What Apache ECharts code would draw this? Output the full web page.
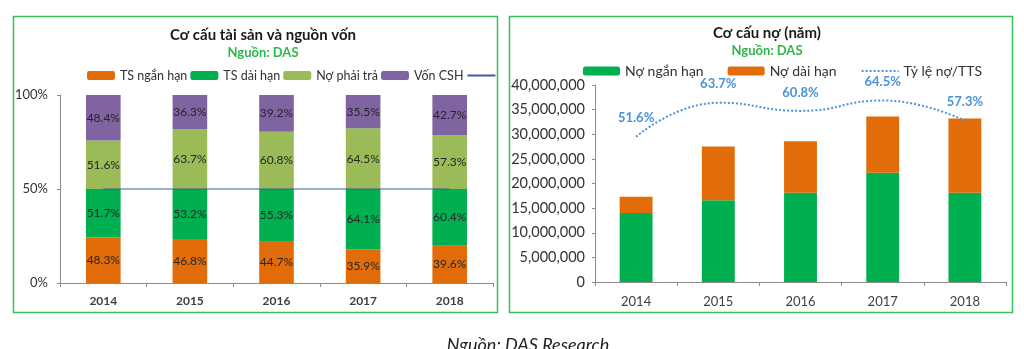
<!DOCTYPE html>
<html>
<head>
<meta charset="utf-8">
<script src="https://cdn.jsdelivr.net/npm/echarts@6/dist/echarts.min.js"></script>
<style>
html,body{margin:0;padding:0;background:#fff;}
#c{width:1024px;height:349px;}
</style>
</head>
<body>
<div id="c"></div>
<script>
// ---- Left chart data ----
const years = ['2014', '2015', '2016', '2017', '2018'];
const tsNganHan = [48.3, 46.8, 44.7, 35.9, 39.6];
const tsDaiHan = [51.7, 53.2, 55.3, 64.1, 60.4];
const noPhaiTra = [51.6, 63.7, 60.8, 64.5, 57.3];
const vonCSH = [48.4, 36.3, 39.2, 35.5, 42.7];
const dividerLine = [100, 100, 100, 100, 100];
const leftTicks = ['0%', '50%', '100%'];

// ---- Right chart data ----
const noNganHan = [14000000, 16600000, 18100000, 22200000, 18100000];
const noDaiHan = [3300000, 10900000, 10500000, 11400000, 15100000];
const tyLeNo = [51.6, 63.7, 60.8, 64.5, 57.3];

const FONT = 'Lato';
const ORANGE = '#E36C0A', GREEN = '#00B050', LGREEN = '#9BBB59', PURPLE = '#8064A2', BLUE = '#4A93D8';

const chart = echarts.init(document.getElementById('c'), null, {renderer: 'canvas'});

const pctLabel = {
  show: true, position: 'inside', fontFamily: FONT, fontSize: 12, color: '#262626',
  formatter: p => p.value.toFixed(1) + '%'
};

const option = {
  animation: false,
  textStyle: {fontFamily: FONT},
  title: [
    {text: 'Cơ cấu tài sản và nguồn vốn', subtext: 'Nguồn: DAS', left: 258, top: 23, textAlign: 'center', itemGap: 3,
      textStyle: {fontFamily: FONT, fontSize: 15, fontWeight: 'bold', color: '#1a1a1a'},
      subtextStyle: {fontFamily: FONT, fontSize: 13, fontWeight: 'bold', color: '#2DB84C'}},
    {text: 'Cơ cấu nợ (năm)', subtext: 'Nguồn: DAS', left: 762, top: 21, textAlign: 'center', itemGap: 3,
      textStyle: {fontFamily: FONT, fontSize: 15, fontWeight: 'bold', color: '#1a1a1a'},
      subtextStyle: {fontFamily: FONT, fontSize: 13, fontWeight: 'bold', color: '#2DB84C'}},
    {text: 'Nguồn: DAS Research', left: 528, top: 336, textAlign: 'center', padding: 0,
      textStyle: {fontFamily: FONT, fontSize: 18, fontStyle: 'italic', fontWeight: 'normal', color: '#222'}}
  ],
  graphic: [
    {type: 'rect', shape: {x: 13.5, y: 16.5, width: 484, height: 296}, style: {fill: 'none', stroke: '#3DBE5C', lineWidth: 1.5}, z: 100},
    {type: 'rect', shape: {x: 509.5, y: 16.5, width: 503, height: 296}, style: {fill: 'none', stroke: '#3DBE5C', lineWidth: 1.5}, z: 100}
  ],
  legend: [
    {left: 87, top: 69, padding: 0, itemWidth: 28, itemHeight: 9, itemGap: 3,
      data: ['TS ngắn hạn', 'TS dài hạn', 'Nợ phải trả', 'Vốn CSH', {name: 'Mốc 50%', itemStyle: {opacity: 0}}],
      formatter: n => n === 'Mốc 50%' ? '' : n,
      textStyle: {fontFamily: FONT, fontSize: 12.5, color: '#333'}},
    {left: 583, top: 64, padding: 0, itemWidth: 37, itemHeight: 9, itemGap: 24,
      data: ['Nợ ngắn hạn', 'Nợ dài hạn', {name: 'Tỷ lệ nợ/TTS', itemStyle: {opacity: 0}}],
      textStyle: {fontFamily: FONT, fontSize: 14, color: '#333'}}
  ],
  grid: [
    {left: 60, right: 531, top: 95, bottom: 66},
    {left: 595, right: 18, top: 85, bottom: 67}
  ],
  xAxis: [
    {type: 'category', gridIndex: 0, data: years,
      axisLine: {lineStyle: {color: '#8c8c8c'}}, axisTick: {show: true, lineStyle: {color: '#8c8c8c'}, length: 4},
      axisLabel: {fontFamily: FONT, fontSize: 12, fontWeight: 'bold', color: '#404040', margin: 12}},
    {type: 'category', gridIndex: 1, data: years,
      axisLine: {lineStyle: {color: '#8c8c8c'}}, axisTick: {show: true, lineStyle: {color: '#8c8c8c'}, length: 4},
      axisLabel: {fontFamily: FONT, fontSize: 13, color: '#404040', margin: 13}}
  ],
  yAxis: [
    {type: 'value', gridIndex: 0, min: 0, max: 200, interval: 100,
      axisLine: {show: true, lineStyle: {color: '#8c8c8c'}}, axisTick: {show: true, length: 3, lineStyle: {color: '#8c8c8c'}},
      splitLine: {show: false},
      axisLabel: {fontFamily: FONT, fontSize: 13, color: '#333', margin: 12, formatter: v => leftTicks[v / 100]}},
    {type: 'value', gridIndex: 1, min: 0, max: 40000000, interval: 5000000,
      axisLine: {show: true, lineStyle: {color: '#8c8c8c'}}, axisTick: {show: true, length: 3, lineStyle: {color: '#8c8c8c'}},
      splitLine: {show: false},
      axisLabel: {fontFamily: FONT, fontSize: 14.5, color: '#333', margin: 10, formatter: v => v.toLocaleString('en-US')}},
    {type: 'value', gridIndex: 1, min: 0, max: 70, show: false, splitLine: {show: false}}
  ],
  series: [
    {name: 'TS ngắn hạn', type: 'bar', stack: 'L', xAxisIndex: 0, yAxisIndex: 0, barWidth: '40%', data: tsNganHan, itemStyle: {color: ORANGE}, label: pctLabel},
    {name: 'TS dài hạn', type: 'bar', stack: 'L', xAxisIndex: 0, yAxisIndex: 0, data: tsDaiHan, itemStyle: {color: GREEN}, label: pctLabel},
    {name: 'Nợ phải trả', type: 'bar', stack: 'L', xAxisIndex: 0, yAxisIndex: 0, data: noPhaiTra, itemStyle: {color: LGREEN}, label: pctLabel},
    {name: 'Vốn CSH', type: 'bar', stack: 'L', xAxisIndex: 0, yAxisIndex: 0, data: vonCSH, itemStyle: {color: PURPLE}, label: pctLabel},
    {name: 'Mốc 50%', type: 'line', xAxisIndex: 0, yAxisIndex: 0, data: dividerLine, symbol: 'none', z: 5,
      lineStyle: {color: '#3E5A9A', width: 1.2}, itemStyle: {color: '#3E5A9A'}},
    {name: 'Nợ ngắn hạn', type: 'bar', stack: 'R', xAxisIndex: 1, yAxisIndex: 1, barWidth: '40%', data: noNganHan, itemStyle: {color: GREEN}},
    {name: 'Nợ dài hạn', type: 'bar', stack: 'R', xAxisIndex: 1, yAxisIndex: 1, data: noDaiHan, itemStyle: {color: ORANGE}},
    {name: 'Tỷ lệ nợ/TTS', type: 'line', xAxisIndex: 1, yAxisIndex: 2, data: tyLeNo, smooth: true,
      symbol: 'circle', symbolSize: 0.1, showSymbol: true, z: 5,
      lineStyle: {color: BLUE, width: 2, type: 'dotted'}, itemStyle: {color: BLUE},
      label: {show: true, position: 'top', distance: 12, fontFamily: FONT, fontSize: 13, fontWeight: 'bold', color: BLUE, formatter: p => p.value.toFixed(1) + '%'}}
  ]
};
chart.setOption(option);
</script>
</body>
</html>
